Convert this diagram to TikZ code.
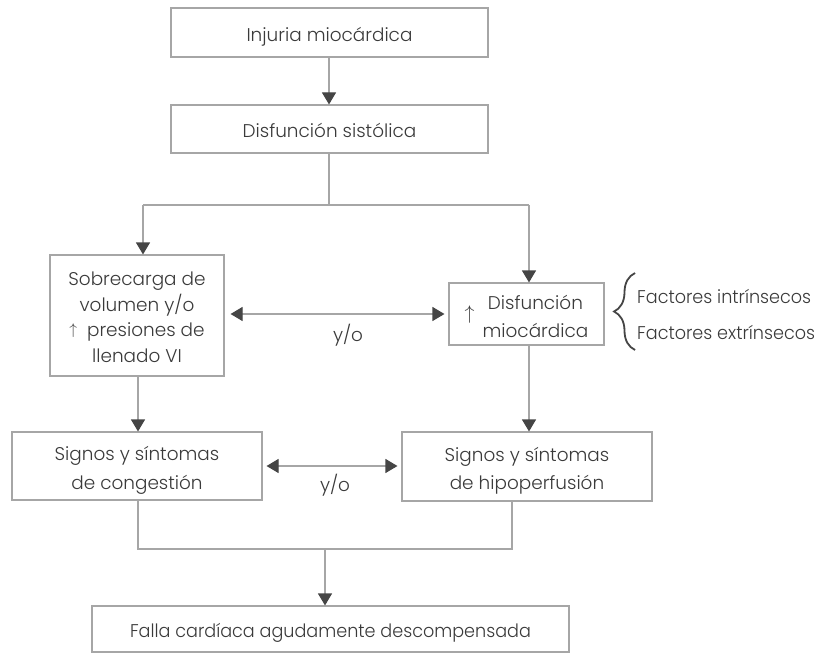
\documentclass[tikz,border=0pt]{standalone}
\usepackage{fontspec}
\setmainfont{Poppins}[UprightFont={* Light}]
\newfontfamily\narrowfont{Poppins}[UprightFont={* Light}, FakeStretch=0.955]
\usetikzlibrary{arrows.meta,decorations.pathreplacing}

\definecolor{txt}{HTML}{3A3A3A}
\definecolor{edge}{HTML}{A6A6A6}
\definecolor{tipc}{HTML}{454545}

\tikzset{
  box/.style={draw=edge, line width=1.1bp, fill=white, text=txt,
              inner sep=0pt, font=\fontsize{18.5}{25.5}\selectfont},
  conn/.style={draw=edge, line width=1.1bp},
  arr/.style={conn, -{Triangle[width=14bp,length=12bp,color=tipc]}},
  darr/.style={conn, {Triangle[width=14bp,length=12bp,color=tipc]}-{Triangle[width=14bp,length=12bp,color=tipc]}},
  lbl/.style={text=txt, font=\fontsize{18.5}{25}\selectfont, inner sep=0pt},
  sidelbl/.style={lbl, anchor=base west, font=\narrowfont\fontsize{18.5}{25}\selectfont}
}
% small up arrow used inside the boxes
\newcommand{\upmark}[1]{\scalebox{#1}{$\uparrow$}}
% centred block of lines, set slightly lower in its box
\newcommand{\bx}[2][25.5]{\raisebox{-3.5bp}[\height][\depth]{\fontsize{18.5}{#1}\selectfont\begin{tabular}{@{}c@{}}#2\end{tabular}}}

\begin{document}
\begin{tikzpicture}[x=1bp,y=-1bp]
  \useasboundingbox (0,0) rectangle (820,654);

  % boxes
  \node[box, minimum width=317bp, minimum height=49bp] (inj) at (329.5,32.5) {\bx{Injuria miocárdica}};
  \node[box, minimum width=317bp, minimum height=48bp] (sis) at (329.5,129) {\bx{Disfunción sistólica}};
  \node[box, minimum width=174bp, minimum height=121bp] (sob) at (137,315.5)
    {\bx[25.7]{Sobrecarga de\\volumen y/o\\\raisebox{2bp}{\upmark{0.9}}\hspace{10bp}presiones de\\llenado VI}};
  \node[box, minimum width=155bp, minimum height=62bp] (dis) at (526.5,314)
    {\raisebox{-1bp}{\upmark{1.15}}\hspace{8bp}\bx[28]{Disfunción\\miocárdica}};
  \node[box, minimum width=250bp, minimum height=68bp] (con) at (137,466)
    {\bx[28.5]{Signos y síntomas\\de congestión}};
  \node[box, minimum width=250bp, minimum height=69bp] (hip) at (527,466.5)
    {\bx[28.5]{Signos y síntomas\\de hipoperfusión}};
  \node[box, minimum width=477bp, minimum height=46bp] (fal) at (330.5,629)
    {\bx{\narrowfont Falla cardíaca agudamente descompensada}};

  % branching coordinates
  \coordinate (split) at (329,205);
  \coordinate (join) at (325,549);

  % top chain
  \draw[arr] (inj.south -| 329,0) -- (sis.north -| 329,0);
  \draw[conn] (sis.south -| split) -- (split);
  \draw[conn] (143,205) -- (529,205);
  \draw[arr] (split -| 143,0) -- (sob.north -| 143,0);
  \draw[arr] (split -| 529,0) -- (dis.north -| 529,0);

  % middle links
  \draw[darr, shorten <=6bp, shorten >=4bp] (sob.east |- 0,314) -- (dis.west |- 0,314);
  \node[lbl] (yo1) at (348,335) {y/o};

  \draw[arr] (sob.south -| 138,0) -- (con.north -| 138,0);
  \draw[arr] (dis.south -| 529,0) -- (hip.north -| 529,0);

  \draw[darr, shorten <=4bp, shorten >=4bp] (con.east |- 0,466) -- (hip.west |- 0,466);
  \node[lbl] (yo2) at (335,485) {y/o};

  % bottom join
  \draw[conn] (con.south -| 138,0) -- (138,549) -- (512,549) -- (hip.south -| 512,0);
  \draw[arr] (join) -- (fal.north -| join);

  % factors with their brace
  \draw[draw=tipc, line width=1.8bp, decorate, decoration={brace, amplitude=21bp, aspect=0.5}]
    (635,350) -- (635,273);
  \node[sidelbl] (fin) at (637,303) {Factores intrínsecos};
  \node[sidelbl] (fex) at (637,339) {Factores extrínsecos};
\end{tikzpicture}
\end{document}
